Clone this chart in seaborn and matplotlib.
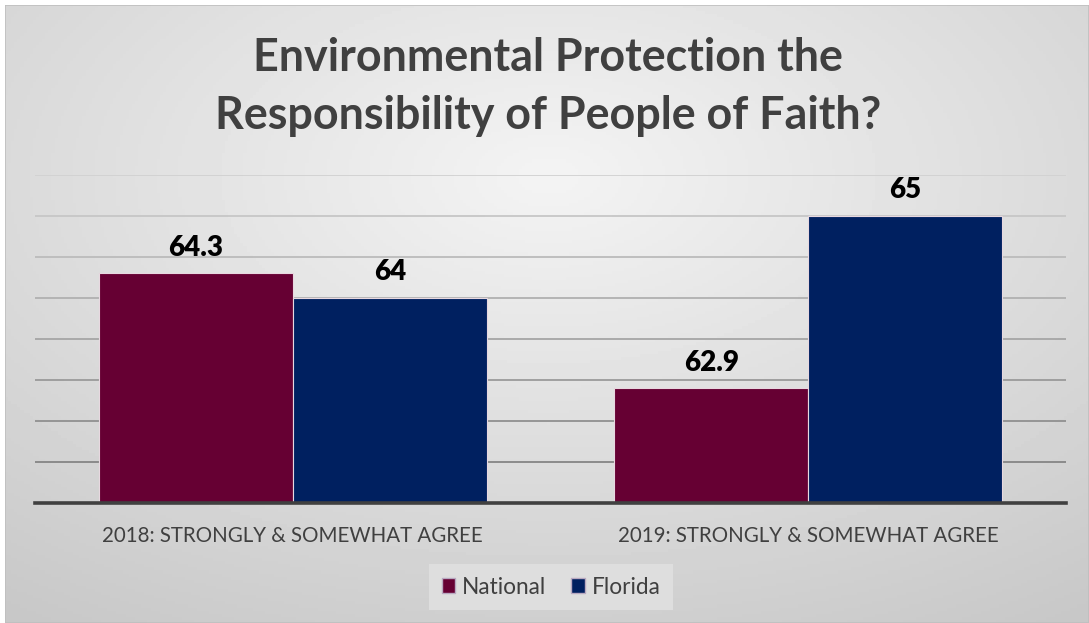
import numpy as np
import pandas as pd
import matplotlib
matplotlib.use("Agg")
import matplotlib.pyplot as plt
import seaborn as sns
from matplotlib.patches import Rectangle, Patch

categories = ["2018: STRONGLY & SOMEWHAT AGREE", "2019: STRONGLY & SOMEWHAT AGREE"]
series = ["National", "Florida"]
national = [64.3, 62.9]
florida = [64.0, 65.0]
labels_text = {"National": ["64.3", "62.9"], "Florida": ["64", "65"]}
colors = {"National": "#660033", "Florida": "#002060"}
title = "Environmental Protection the\nResponsibility of People of Faith?"

df = pd.DataFrame({
    "category": categories * 2,
    "series": ["National"] * 2 + ["Florida"] * 2,
    "value": national + florida,
})

sns.set_theme(style="white")
plt.rcParams["font.family"] = ["Lato", "DejaVu Sans"]

W, H = 1089, 623
fig = plt.figure(figsize=(W / 100, H / 100), dpi=100)
fig.patch.set_facecolor("white")

# background gradient panel
bg = fig.add_axes([5 / W, 0, (W - 5) / W, (H - 5) / H])
yy, xx = np.mgrid[0:200, 0:350]
cx, cy = 175, 55
d = np.sqrt(((xx - cx) / 350) ** 2 + ((yy - cy) / 200) ** 2)
d = np.clip(d / 0.85, 0, 1)
img = 0.955 - 0.17 * d
bg.imshow(img, cmap="gray", vmin=0, vmax=1, aspect="auto", extent=[0, 1, 0, 1], origin="upper")
bg.set_xlim(0, 1); bg.set_ylim(0, 1)
bg.axis("off")
bg.add_patch(Rectangle((0, 0), 1, 1, transform=bg.transAxes, fill=False, edgecolor="#bfbfbf", lw=1.2))

# main axes
x0, x1 = 35, 1066
ytop, ybot = 175, 502.7
ax = fig.add_axes([x0 / W, (H - ybot) / H, (x1 - x0) / W, (ybot - ytop) / H])
ax.patch.set_alpha(0)

sns.barplot(data=df, x="category", y="value", hue="series", hue_order=series,
            palette=colors, width=0.753, gap=0, ax=ax, legend=False,
            edgecolor="#e8d8e0", linewidth=0.8, saturation=1)

ax.set_ylim(61.5, 65.5)
ax.set_xlim(-0.5, 1.5)
ax.set_yticks(np.arange(62.0, 65.6, 0.5))
ax.yaxis.grid(True, lw=1.3)
ax.set_axisbelow(True)
# gridlines shade from light (top) to darker (bottom)
glines = ax.get_ygridlines()
ticks = ax.get_yticks()
for gl, t in zip(glines, ticks):
    f = (t - 62.0) / 3.5  # 0 bottom, 1 top
    g = 0.52 + 0.30 * f
    gl.set_color((g, g, g))
ax.tick_params(axis="y", left=False, labelleft=False)
ax.tick_params(axis="x", bottom=False, labelsize=14.8, labelcolor="#404040", pad=11)
ax.set_xlabel(""); ax.set_ylabel("")
for s in ["top", "left", "right"]:
    ax.spines[s].set_visible(False)
ax.spines["bottom"].set_color("#404040")
ax.spines["bottom"].set_linewidth(2.6)

# data labels
for cont, name in zip(ax.containers, series):
    ax.bar_label(cont, labels=labels_text[name], padding=9, fontsize=20,
                 fontweight="heavy", color="black")

# title
fig.text(548 / W, 1 - 87 / H, title, ha="center", va="center", fontsize=32.3,
         fontweight="bold", color="#404040", linespacing=1.45)

# legend
handles = [Patch(facecolor=colors[s], edgecolor="#b8a8c0", label=s) for s in series]
leg = fig.legend(handles=handles, loc="center", bbox_to_anchor=(551 / W, 1 - 587 / H),
                 ncol=2, frameon=True, fontsize=16.3, handlelength=0.6, handleheight=0.6,
                 handletextpad=0.3, columnspacing=1.1, borderpad=0.55)
leg.get_frame().set_facecolor("#e2e2e2")
leg.get_frame().set_edgecolor("none")
leg.get_frame().set_boxstyle("square", pad=0)
for t in leg.get_texts():
    t.set_color("#404040")

fig.savefig("out.png", dpi=100)
